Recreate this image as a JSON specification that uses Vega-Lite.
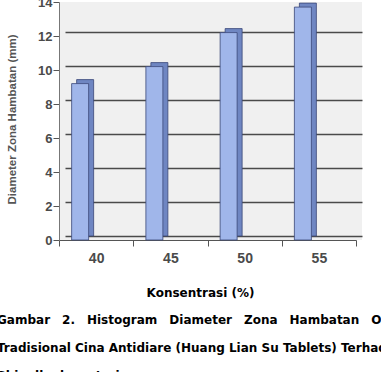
{
  "$schema": "https://vega.github.io/schema/vega-lite/v6.json",
  "autosize": {"type": "none"},
  "width": 303,
  "height": 238,
  "padding": {"left": 59, "top": 2, "right": 19, "bottom": 132},
  "background": "white",
  "config": {"view": {"fill": "#f0f0f0", "stroke": null}, "font": "Liberation Sans"},
  "data": {"values": [
    {"k": "40", "v": 9.2},
    {"k": "45", "v": 10.2},
    {"k": "50", "v": 12.2},
    {"k": "55", "v": 13.7}
  ]},
  "title": {
    "text": [
      "Gambar\u20032.\u2003Histogram\u2003Diameter\u2003Zona\u2003Hambatan\u2003Obat",
      "Tradisional Cina Antidiare (Huang Lian Su Tablets) Terhadap",
      "Shigella dysenteriae"
    ],
    "orient": "bottom",
    "anchor": "start",
    "frame": "group",
    "dx": -62,
    "offset": 17,
    "font": "DejaVu Sans",
    "fontSize": 12,
    "fontWeight": "bold",
    "color": "black",
    "lineHeight": 28,
    "baseline": "top"
  },
  "layer": [
    {
      "mark": {"type": "bar", "width": 17, "xOffset": -11, "color": "#6f86c2", "stroke": "#3a4677", "strokeWidth": 0.8},
      "encoding": {
        "x": {"field": "k", "type": "ordinal", "scale": {"type": "band", "range": [0, 297], "paddingInner": 0, "paddingOuter": 0},
          "axis": {"title": "Konsentrasi (%)", "labelAngle": 0, "tickBand": "extent", "tickSize": 6, "tickColor": "#555",
            "domainColor": "#555", "domainWidth": 1.2, "labelFont": "Liberation Sans", "labelFontSize": 14, "labelFontWeight": "bold",
            "labelColor": "#4a4a4a", "labelPadding": 5, "titleFont": "DejaVu Sans", "titleFontSize": 12, "titleFontWeight": "bold",
            "titleColor": "black", "titleX": 141, "titleY": 52, "titleAlign": "center", "titleBaseline": "middle"}},
        "y": {"field": "v", "type": "quantitative", "scale": {"domain": [0, 14], "range": [234, -4]},
          "axis": {"orient": "right", "grid": true, "labels": false, "ticks": false, "domain": false, "title": null,
            "values": [0, 2, 4, 6, 8, 10, 12], "gridColor": "#4a4a4a", "gridWidth": 1.3}}
      }
    },
    {
      "mark": {"type": "bar", "width": 17, "xOffset": -16, "color": "#a0b6ea", "stroke": "#3a4677", "strokeWidth": 0.8},
      "encoding": {
        "x": {"field": "k", "type": "ordinal"},
        "y": {"field": "v", "type": "quantitative", "scale": {"domain": [0, 14]},
          "axis": {"grid": false, "values": [0, 2, 4, 6, 8, 10, 12, 14], "tickSize": 6, "tickColor": "#555", "domainColor": "#777",
            "labelFont": "Liberation Sans", "labelFontSize": 13, "labelFontWeight": "bold", "labelColor": "#4a4a4a", "labelPadding": 1,
            "title": "Diameter Zona Hambatan (mm)", "titleFont": "Liberation Sans", "titleFontSize": 11.5, "titleFontWeight": "bold",
            "titleColor": "#555", "titleX": -47, "titleY": 117, "titleAngle": 270, "titleAlign": "center", "titleBaseline": "middle"}}
      }
    }
  ],
  "resolve": {"scale": {"y": "independent"}}
}
